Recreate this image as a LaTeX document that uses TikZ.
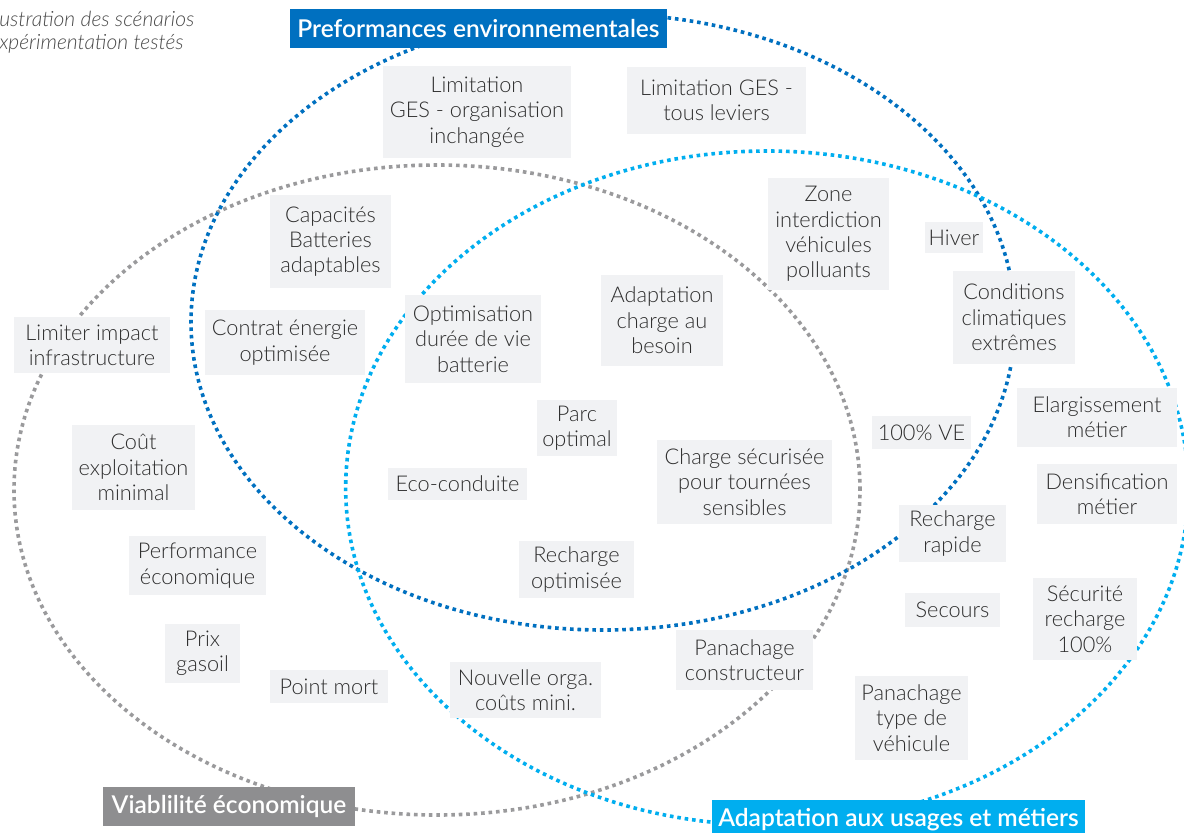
\documentclass[tikz,border=0pt]{standalone}
\usepackage{fontspec}
\setmainfont{Lato Light}[ItalicFont={Lato Light Italic}]
\newfontfamily\titlefont{Lato Semibold}
\definecolor{envblue}{HTML}{0070C0}
\definecolor{usablue}{HTML}{00AEEF}
\definecolor{ecogray}{HTML}{8E8E90}
\definecolor{ecoline}{HTML}{9A9A9C}
\definecolor{boxfill}{HTML}{F1F2F4}
\definecolor{txt}{HTML}{2E2E2E}
\definecolor{captxt}{HTML}{4A4A4A}
\tikzset{
  dotline/.style={line width=2.7pt, dash pattern=on 2.7pt off 2.9pt},
  bx/.style={fill=boxfill, text=txt, align=center, inner sep=0pt,
    font=\fontsize{16.3pt}{19pt}\selectfont},
  lbl/.style={text=white, inner sep=0pt, font=\titlefont\fontsize{18.4pt}{21pt}\selectfont},
  captionnode/.style={text=captxt, align=left, inner sep=0pt, anchor=north west,
    font=\itshape\fontsize{15.8pt}{17.5pt}\selectfont}
}
\begin{document}
\begin{tikzpicture}[x=0.75pt,y=-0.75pt]
\useasboundingbox[fill=white] (0,0) rectangle (1184,832);
% ellipses
\draw[dotline, ecoline] (437,490) ellipse [x radius=317.25pt, y radius=243.75pt];
\draw[dotline, envblue] (603,322) ellipse [x radius=309pt, y radius=231pt];
\draw[dotline, usablue] (767,488) ellipse [x radius=316pt, y radius=252.75pt];
% caption
\node[captionnode] (capt) at (-1,11) {ustration des scénarios\\xpérimentation testés};
% labels
\node[lbl, fill=envblue, minimum width=282.75pt, minimum height=29.25pt] (env) at (478.5,28.5) {Preformances environnementales};
\node[lbl, fill=ecogray, minimum width=189pt, minimum height=29.25pt] (eco) at (229,806.5) {Viablilité économique};
\node[lbl, fill=usablue, minimum width=279.75pt, minimum height=29.25pt] (usa) at (898.5,819.5) {Adaptation aux usages et métiers};
% boxes
\node[bx, minimum width=141pt, minimum height=69pt] (b1) at (477,112) {Limitation\\GES - organisation\\inchangée};
\node[bx, minimum width=134.25pt, minimum height=50.25pt] (b2) at (716.5,100) {Limitation GES -\\tous leviers};
\node[bx, minimum width=90.75pt, minimum height=69.75pt] (b3) at (330.5,241.5) {Capacités\\Batteries\\adaptables};
\node[bx, minimum width=90.75pt, minimum height=84pt] (b4) at (828.5,234) {Zone\\interdiction\\véhicules\\polluants};
\node[bx, minimum width=43.5pt, minimum height=23.25pt] (b5) at (954,237.5) {Hiver};
\node[bx, minimum width=91.5pt, minimum height=69.75pt] (b6) at (1014,317.5) {Conditions\\climatiques\\extrêmes};
\node[bx, minimum width=117pt, minimum height=42pt] (b7) at (92,345) {Limiter impact\\infrastructure};
\node[bx, minimum width=120pt, minimum height=48.75pt] (b8) at (285,342.5) {Contrat énergie\\optimisée};
\node[bx, minimum width=102pt, minimum height=66pt] (b9) at (473,339) {Optimisation\\durée de vie\\batterie};
\node[bx, minimum width=91.5pt, minimum height=68.25pt] (b10) at (662,320.5) {Adaptation\\charge au\\besoin};
\node[bx, minimum width=60pt, minimum height=42pt] (b11) at (577,428) {Parc\\optimal};
\node[bx, minimum width=104.25pt, minimum height=24pt] (b12) at (457.5,484) {Eco-conduite};
\node[bx, minimum width=131.25pt, minimum height=63pt] (b13) at (744.5,482) {Charge sécurisée\\pour tournées\\sensibles};
\node[bx, minimum width=74.25pt, minimum height=24.75pt] (b14) at (921.5,432.5) {100\% VE};
\node[bx, minimum width=120pt, minimum height=44.25pt] (b15) at (1097,417.5) {Elargissement\\métier};
\node[bx, minimum width=105pt, minimum height=45pt] (b16) at (1107,494) {Densification\\métier};
\node[bx, minimum width=92.25pt, minimum height=63.75pt] (b17) at (133.5,467.5) {Coût\\exploitation\\minimal};
\node[bx, minimum width=102.75pt, minimum height=44.25pt] (b18) at (197.5,565.5) {Performance\\économique};
\node[bx, minimum width=80.25pt, minimum height=42.75pt] (b19) at (952.5,533.5) {Recharge\\rapide};
\node[bx, minimum width=86.25pt, minimum height=42.75pt] (b20) at (576.5,569.5) {Recharge\\optimisée};
\node[bx, minimum width=71.25pt, minimum height=25.5pt] (b21) at (952.5,610) {Secours};
\node[bx, minimum width=78pt, minimum height=61.5pt] (b22) at (1085,619) {Sécurité\\recharge\\100\%};
\node[bx, minimum width=56.25pt, minimum height=44.25pt] (b23) at (202.5,653.5) {Prix\\gasoil};
\node[bx, minimum width=88.5pt, minimum height=24.75pt] (b24) at (329,686.5) {Point mort};
\node[bx, minimum width=113.25pt, minimum height=42pt] (b25) at (525.5,690) {Nouvelle orga.\\coûts mini.};
\node[bx, minimum width=102.75pt, minimum height=45pt] (b26) at (744.5,660) {Panachage\\constructeur};
\node[bx, minimum width=84.75pt, minimum height=63pt] (b27) at (911.5,718) {Panachage\\type de\\véhicule};
\end{tikzpicture}
\end{document}
